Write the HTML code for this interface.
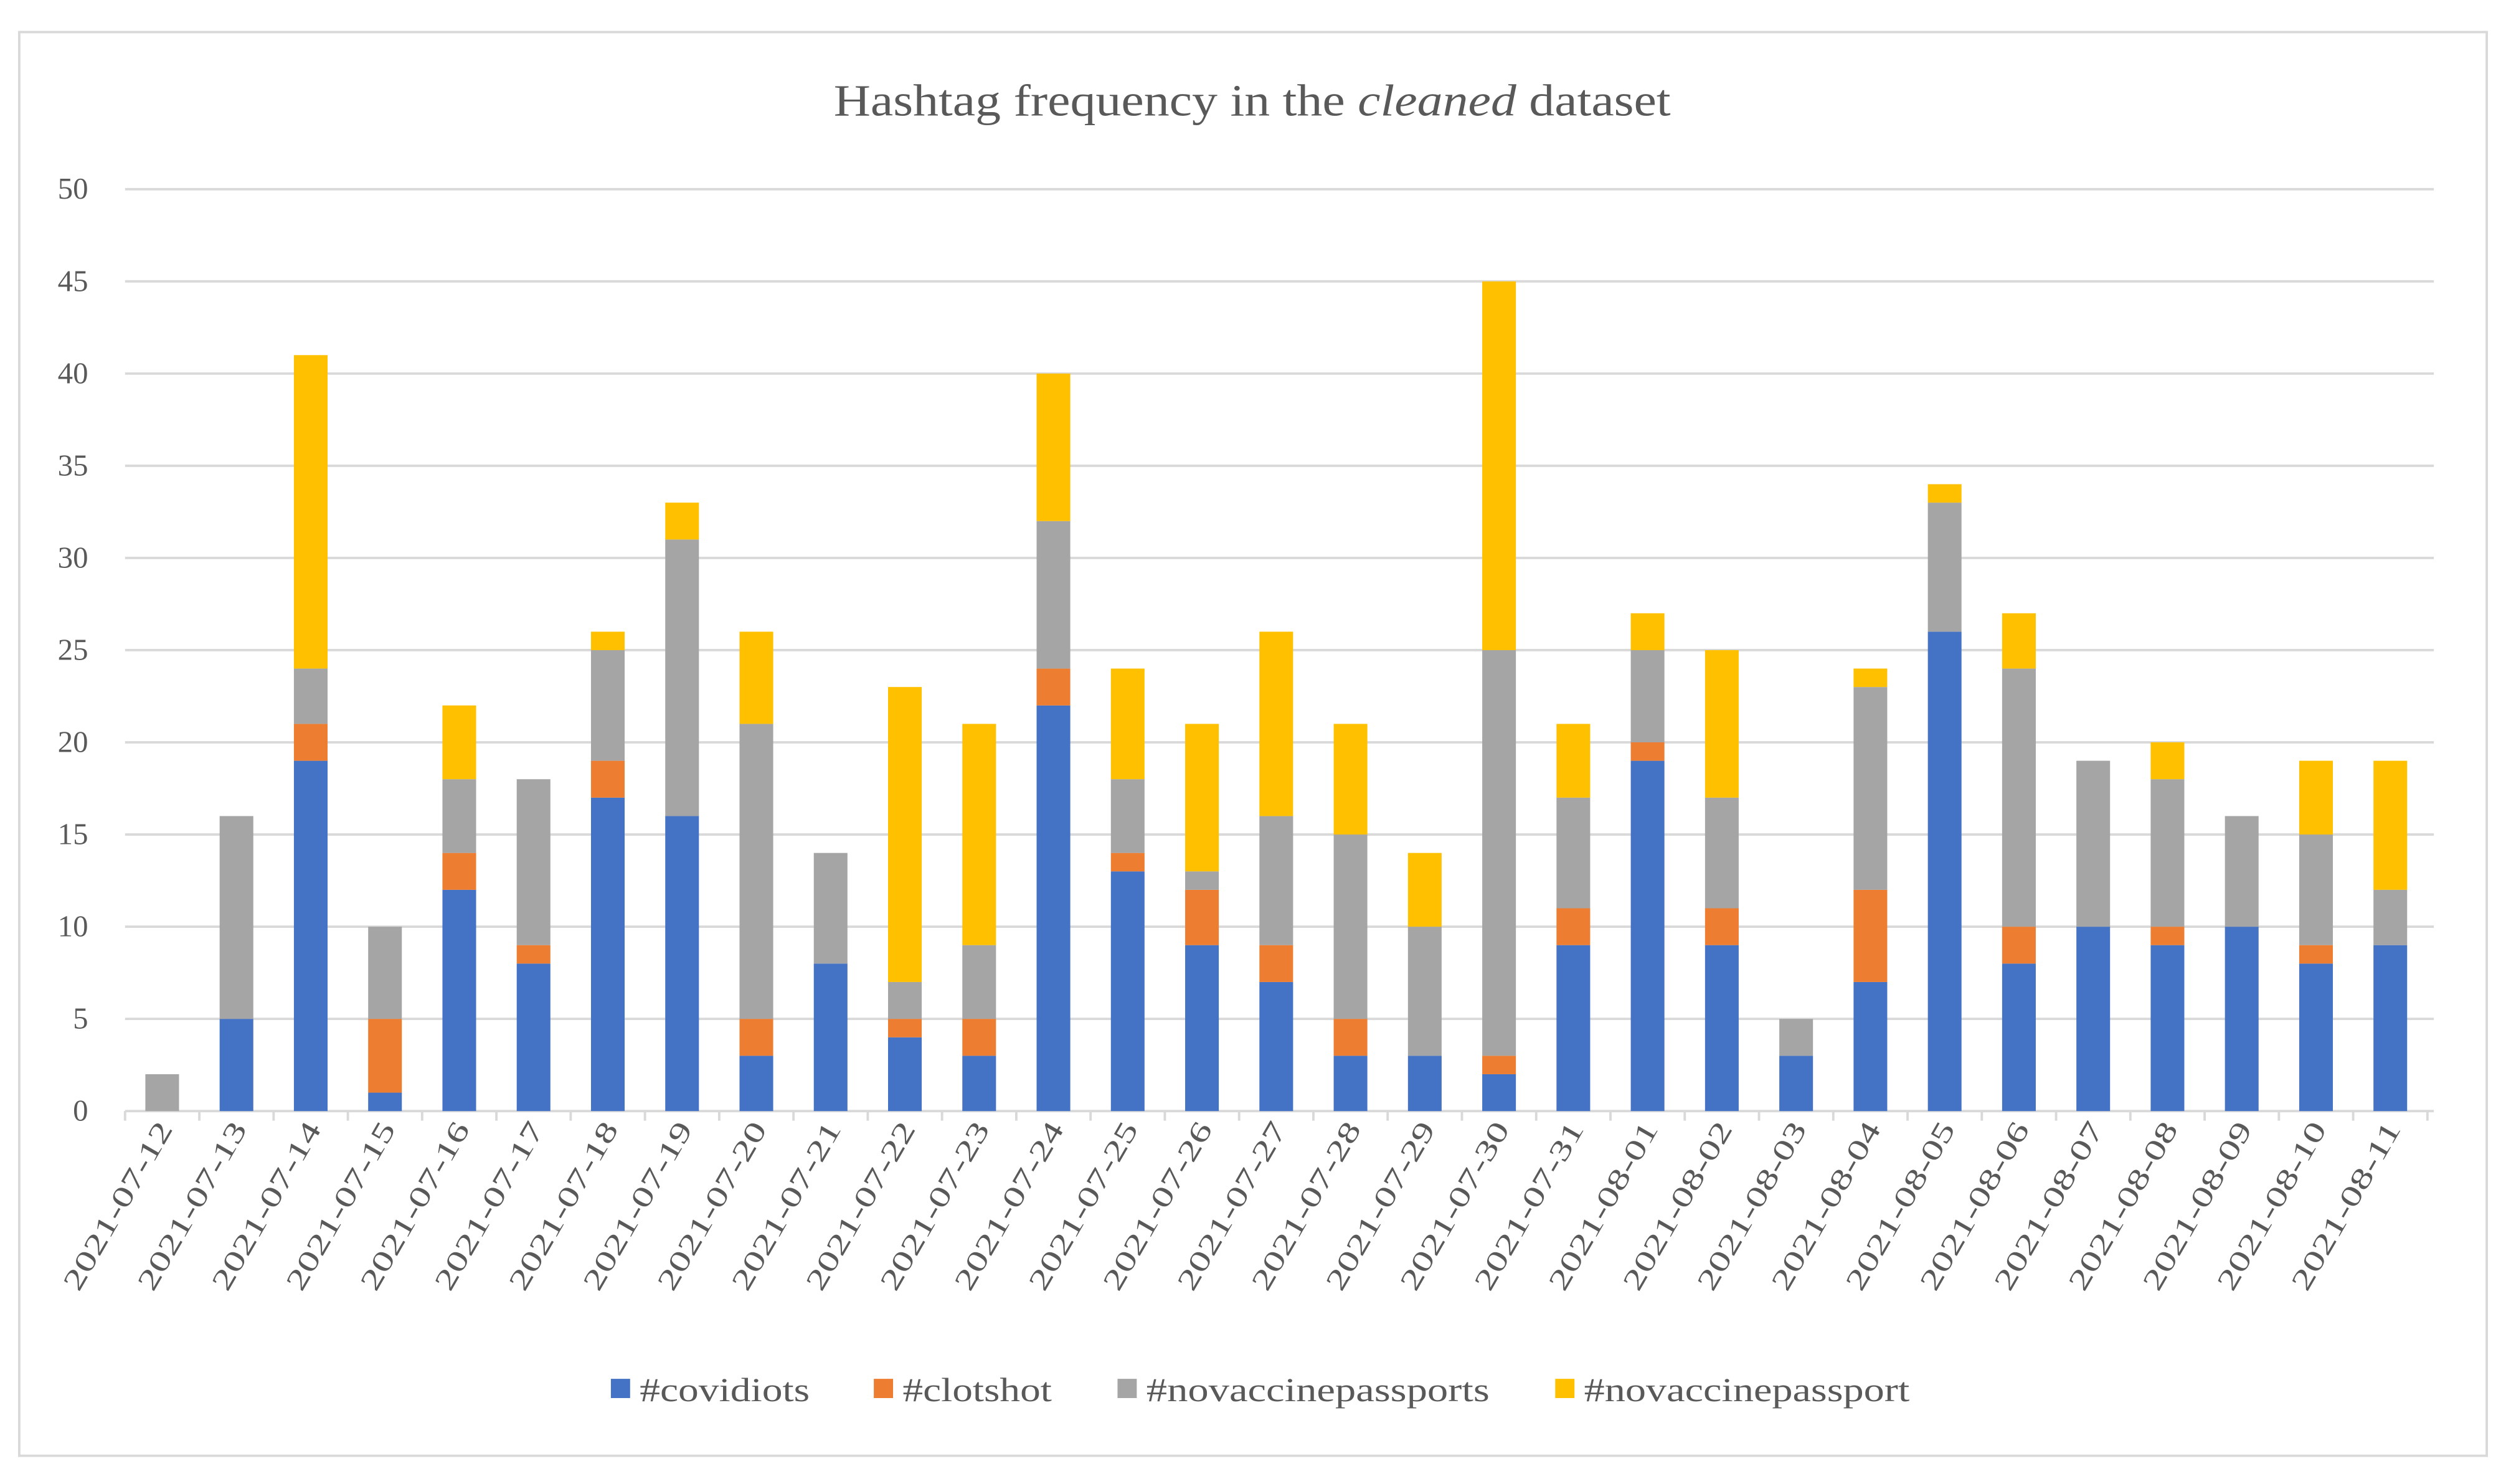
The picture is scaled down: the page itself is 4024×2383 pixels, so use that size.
<!DOCTYPE html>
<html><head><meta charset="utf-8">
<style>
html,body{margin:0;padding:0;background:#fff;}
svg{display:block;}
text{font-family:"Liberation Serif",serif;fill:#595959;}
</style></head>
<body>
<svg id="chart" width="4024" height="2383" viewBox="0 0 1563 925.6" preserveAspectRatio="none" xmlns="http://www.w3.org/2000/svg">
<rect x="12" y="20" width="1539" height="888" fill="#fff" stroke="#d9d9d9" stroke-width="1.5"/>
<text x="520" y="72" font-size="28" textLength="522" lengthAdjust="spacingAndGlyphs">Hashtag frequency in the <tspan font-style="italic">cleaned</tspan> dataset</text>
<g id="grid"></g>
<g id="bars"></g>
<g id="xlabels"></g>
<g id="ylabels"></g>
<g id="legend"></g>
</svg>
<script>
const categories = ["2021-07-12","2021-07-13","2021-07-14","2021-07-15","2021-07-16","2021-07-17","2021-07-18","2021-07-19","2021-07-20","2021-07-21","2021-07-22","2021-07-23","2021-07-24","2021-07-25","2021-07-26","2021-07-27","2021-07-28","2021-07-29","2021-07-30","2021-07-31","2021-08-01","2021-08-02","2021-08-03","2021-08-04","2021-08-05","2021-08-06","2021-08-07","2021-08-08","2021-08-09","2021-08-10","2021-08-11"];
const covidiots = [0,5,19,1,12,8,17,16,3,8,4,3,22,13,9,7,3,3,2,9,19,9,3,7,26,8,10,9,10,8,9];
const clotshot = [0,0,2,4,2,1,2,0,2,0,1,2,2,1,3,2,2,0,1,2,1,2,0,5,0,2,0,1,0,1,0];
const novaccinepassports = [2,11,3,5,4,9,6,15,16,6,2,4,8,4,1,7,10,7,22,6,5,6,2,11,7,14,9,8,6,6,3];
const novaccinepassport = [0,0,17,0,4,0,1,2,5,0,16,12,8,6,8,10,6,4,20,4,2,8,0,1,1,3,0,2,0,4,7];
const seriesNames = ["#covidiots","#clotshot","#novaccinepassports","#novaccinepassport"];
const yTicks = [0,5,10,15,20,25,30,35,40,45,50];

const NS="http://www.w3.org/2000/svg";
const colors=["#4472c4","#ed7d31","#a5a5a5","#ffc000"];
const x0=78,x1=1514,yBase=693,yTop=118,yMax=50;
const step=(x1-x0)/categories.length;
const bw=21;
function yScale(v){return yBase-(v/yMax)*(yBase-yTop);}
function xCenter(i){return x0+step*(i+0.5);}
function mk(tag,attrs,parent){const e=document.createElementNS(NS,tag);for(const k in attrs)e.setAttribute(k,attrs[k]);parent.appendChild(e);return e;}

const grid=document.getElementById('grid');
const yl=document.getElementById('ylabels');
yTicks.forEach(t=>{
  const l=mk('line',{x1:x0,x2:x1+4,y1:yScale(t),y2:yScale(t),stroke:'#d9d9d9','stroke-width':1.5},grid);
  
  
  const tx=mk('text',{x:55,y:yScale(t)+6,'text-anchor':'end','font-size':19},yl);
  tx.textContent=t;
  
  
});
for(let i=0;i<=categories.length;i++){
  const tk=mk('line',{x1:x0+step*i,x2:x0+step*i,y1:yBase,y2:yBase+6,stroke:'#d9d9d9','stroke-width':1.5},grid);
  
  
}

const bars=document.getElementById('bars');
const series=[covidiots,clotshot,novaccinepassports,novaccinepassport];
categories.forEach((c,i)=>{
  let acc=0;
  series.forEach((s,j)=>{
    const v=s[i];
    if(v>0){
      const r=mk('rect',{x:xCenter(i)-bw/2,y:yScale(acc+v),width:bw,height:yScale(acc)-yScale(acc+v),fill:colors[j]},bars);
      
      
    }
    acc+=v;
  });
});

const xl=document.getElementById('xlabels');
categories.forEach((c,i)=>{
  const x=xCenter(i)+7,y=704;
  const t=mk('text',{x:x,y:y,'text-anchor':'end','font-size':18,textLength:118,lengthAdjust:'spacingAndGlyphs',transform:`rotate(-60 ${x} ${y})`},xl);
  t.textContent=c;
  
  
});

const lg=document.getElementById('legend');
const lx=[381,545,697,970];
const lw=[106,93,214,203];
seriesNames.forEach((n,j)=>{
  const r=mk('rect',{x:lx[j],y:860,width:12,height:12,fill:colors[j]},lg);
  
  
  const t=mk('text',{x:lx[j]+18,y:874,'font-size':21,textLength:lw[j],lengthAdjust:'spacingAndGlyphs'},lg);
  t.textContent=n;
  
  
});
</script>
</body></html>
